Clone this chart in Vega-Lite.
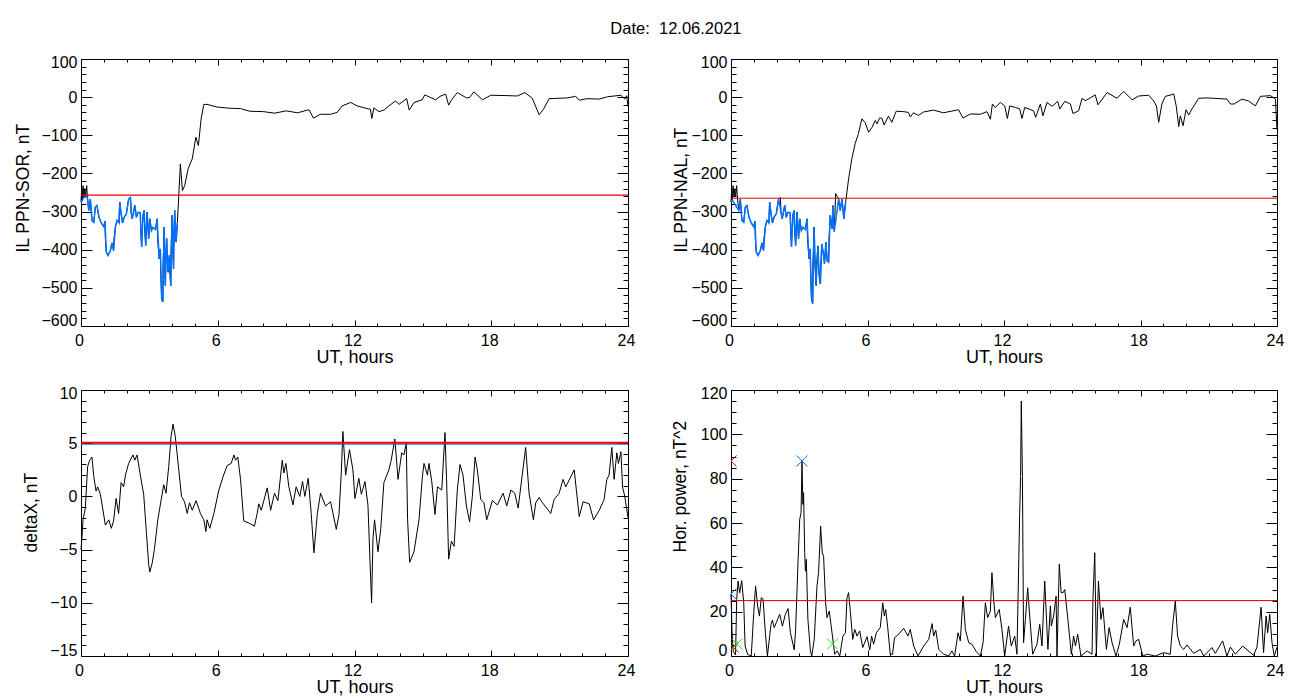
{"$schema":"https://vega.github.io/schema/vega-lite/v6.json","padding":{"left":13,"top":21,"right":0,"bottom":0},"background":"white","bounds":"flush","columns":2,"spacing":{"row":64,"column":103},
"title":{"text":"Date:\u00a0 12.06.2021","fontSize":16.5,"fontWeight":"normal","font":"Liberation Sans","anchor":"middle","color":"black","offset":16,"dx":27},
"config":{"view":{"stroke":"black","strokeWidth":1},"line":{"color":"black","strokeWidth":1,"clip":true},"axis":{"domain":false,"grid":false,"tickColor":"black","tickWidth":1,"labelFont":"Liberation Sans","labelFontSize":16,"labelColor":"black","titleFont":"Liberation Sans","titleFontSize":17.5,"titleFontWeight":"normal","titleColor":"black","labelOverlap":false,"labelBound":false}},
"datasets":{
"sor":[{"t":0,"v":-275},{"t":0.03,"v":-240},{"t":0.06,"v":-270},{"t":0.09,"v":-232},{"t":0.13,"v":-262},{"t":0.17,"v":-240},{"t":0.2,"v":-262},{"t":0.25,"v":-232},{"t":0.28,"v":-262},{"t":0.34,"v":-297},{"t":0.41,"v":-268},{"t":0.48,"v":-323},{"t":0.56,"v":-328},{"t":0.63,"v":-288},{"t":0.7,"v":-284},{"t":0.79,"v":-315},{"t":0.89,"v":-330},{"t":1.0,"v":-340},{"t":1.05,"v":-325},{"t":1.07,"v":-370,"k":1},{"t":1.11,"v":-406},{"t":1.19,"v":-415},{"t":1.29,"v":-402},{"t":1.36,"v":-382},{"t":1.43,"v":-402},{"t":1.45,"v":-370,"k":1},{"t":1.51,"v":-340},{"t":1.58,"v":-323},{"t":1.67,"v":-330},{"t":1.68,"v":-300,"k":1},{"t":1.7,"v":-275},{"t":1.76,"v":-305},{"t":1.82,"v":-330},{"t":1.9,"v":-314},{"t":1.99,"v":-306},{"t":2.09,"v":-267},{"t":2.17,"v":-263},{"t":2.2,"v":-302},{"t":2.25,"v":-319},{"t":2.36,"v":-284},{"t":2.43,"v":-315},{"t":2.5,"v":-302},{"t":2.6,"v":-303},{"t":2.62,"v":-350,"k":1},{"t":2.66,"v":-393},{"t":2.68,"v":-350,"k":1},{"t":2.72,"v":-310},{"t":2.77,"v":-297},{"t":2.79,"v":-345,"k":1},{"t":2.84,"v":-389},{"t":2.9,"v":-301},{"t":2.97,"v":-371},{"t":3.02,"v":-319},{"t":3.09,"v":-350},{"t":3.16,"v":-341},{"t":3.27,"v":-347},{"t":3.34,"v":-319},{"t":3.36,"v":-370,"k":1},{"t":3.43,"v":-424},{"t":3.48,"v":-398},{"t":3.5,"v":-465,"k":1},{"t":3.54,"v":-529},{"t":3.59,"v":-537},{"t":3.6,"v":-440,"k":1},{"t":3.65,"v":-341},{"t":3.66,"v":-420,"k":1},{"t":3.7,"v":-494},{"t":3.71,"v":-430,"k":1},{"t":3.76,"v":-371},{"t":3.77,"v":-415,"k":1},{"t":3.82,"v":-459},{"t":3.88,"v":-415},{"t":3.89,"v":-455,"k":1},{"t":3.94,"v":-494},{"t":3.95,"v":-400,"k":1},{"t":4.0,"v":-310},{"t":4.01,"v":-380,"k":1},{"t":4.06,"v":-450},{"t":4.07,"v":-375,"k":1},{"t":4.11,"v":-297},{"t":4.17,"v":-380},{"t":4.23,"v":-328},{"t":4.29,"v":-258},{"t":4.36,"v":-175},{"t":4.45,"v":-245},{"t":4.55,"v":-232},{"t":4.7,"v":-188},{"t":4.88,"v":-162},{"t":5.04,"v":-105},{"t":5.15,"v":-127},{"t":5.27,"v":-57},{"t":5.39,"v":-19},{"t":5.53,"v":-19},{"t":5.97,"v":-26},{"t":6.5,"v":-29},{"t":7.0,"v":-30},{"t":7.4,"v":-37},{"t":8,"v":-38},{"t":8.5,"v":-42},{"t":9,"v":-36},{"t":9.5,"v":-41},{"t":10,"v":-33},{"t":10.2,"v":-55},{"t":10.5,"v":-45},{"t":10.95,"v":-45},{"t":11.24,"v":-40},{"t":11.46,"v":-23},{"t":11.83,"v":-14},{"t":12.12,"v":-23},{"t":12.49,"v":-29},{"t":12.7,"v":-32},{"t":12.76,"v":-56},{"t":12.85,"v":-28},{"t":13.07,"v":-38},{"t":13.29,"v":-34},{"t":13.51,"v":-23},{"t":13.8,"v":-10},{"t":13.95,"v":-19},{"t":14.29,"v":-4},{"t":14.4,"v":-34},{"t":14.61,"v":-14},{"t":14.97,"v":-7},{"t":15.08,"v":6},{"t":15.56,"v":-7},{"t":15.75,"v":2},{"t":16,"v":8},{"t":16.13,"v":-21},{"t":16.25,"v":-8},{"t":16.51,"v":12},{"t":16.91,"v":-2},{"t":17.05,"v":-1},{"t":17.24,"v":14},{"t":17.61,"v":-7},{"t":17.98,"v":5},{"t":18.7,"v":4},{"t":19.14,"v":3},{"t":19.48,"v":12},{"t":19.8,"v":-3},{"t":20.1,"v":-46},{"t":20.29,"v":-32},{"t":20.54,"v":-4},{"t":21.34,"v":-2},{"t":21.7,"v":2},{"t":21.87,"v":-8},{"t":22.2,"v":-4},{"t":22.74,"v":-5},{"t":23.1,"v":1},{"t":23.69,"v":5},{"t":23.86,"v":-5},{"t":23.94,"v":4},{"t":24,"v":-25}],
"nal":[{"t":0,"v":-275},{"t":0.03,"v":-240},{"t":0.06,"v":-270},{"t":0.09,"v":-232},{"t":0.13,"v":-262},{"t":0.17,"v":-240},{"t":0.2,"v":-262},{"t":0.25,"v":-232},{"t":0.28,"v":-262},{"t":0.34,"v":-297},{"t":0.41,"v":-268},{"t":0.48,"v":-323},{"t":0.56,"v":-328},{"t":0.63,"v":-288},{"t":0.7,"v":-284},{"t":0.79,"v":-315},{"t":0.89,"v":-330},{"t":1.0,"v":-340},{"t":1.05,"v":-325},{"t":1.07,"v":-370,"k":1},{"t":1.11,"v":-406},{"t":1.19,"v":-415},{"t":1.29,"v":-402},{"t":1.36,"v":-382},{"t":1.43,"v":-402},{"t":1.45,"v":-370,"k":1},{"t":1.51,"v":-340},{"t":1.58,"v":-323},{"t":1.67,"v":-330},{"t":1.68,"v":-300,"k":1},{"t":1.7,"v":-275},{"t":1.76,"v":-305},{"t":1.82,"v":-330},{"t":1.9,"v":-314},{"t":1.99,"v":-306},{"t":2.09,"v":-267},{"t":2.17,"v":-263},{"t":2.2,"v":-302},{"t":2.25,"v":-319},{"t":2.36,"v":-284},{"t":2.43,"v":-315},{"t":2.5,"v":-302},{"t":2.6,"v":-303},{"t":2.62,"v":-350,"k":1},{"t":2.66,"v":-393},{"t":2.68,"v":-350,"k":1},{"t":2.72,"v":-310},{"t":2.77,"v":-297},{"t":2.79,"v":-345,"k":1},{"t":2.84,"v":-389},{"t":2.9,"v":-301},{"t":2.97,"v":-371},{"t":3.02,"v":-319},{"t":3.09,"v":-350},{"t":3.16,"v":-341},{"t":3.27,"v":-347},{"t":3.34,"v":-319},{"t":3.36,"v":-370,"k":1},{"t":3.43,"v":-424},{"t":3.48,"v":-398},{"t":3.5,"v":-465,"k":1},{"t":3.54,"v":-529},{"t":3.59,"v":-541},{"t":3.6,"v":-440,"k":1},{"t":3.65,"v":-341},{"t":3.67,"v":-420,"k":1},{"t":3.74,"v":-494},{"t":3.76,"v":-440,"k":1},{"t":3.82,"v":-390},{"t":3.86,"v":-450},{"t":3.88,"v":-475,"k":1},{"t":3.93,"v":-490},{"t":3.95,"v":-435,"k":1},{"t":3.99,"v":-385},{"t":4.06,"v":-410},{"t":4.11,"v":-437},{"t":4.17,"v":-380},{"t":4.23,"v":-430},{"t":4.29,"v":-433},{"t":4.31,"v":-370,"k":1},{"t":4.36,"v":-310},{"t":4.44,"v":-345},{"t":4.48,"v":-284},{"t":4.54,"v":-352},{"t":4.6,"v":-253},{"t":4.73,"v":-267},{"t":4.8,"v":-297},{"t":4.88,"v":-267},{"t":4.96,"v":-319},{"t":5.04,"v":-275},{"t":5.17,"v":-214},{"t":5.31,"v":-162},{"t":5.46,"v":-121},{"t":5.6,"v":-96},{"t":5.75,"v":-57},{"t":5.9,"v":-67},{"t":6.05,"v":-92},{"t":6.2,"v":-79},{"t":6.34,"v":-61},{"t":6.42,"v":-70},{"t":6.53,"v":-55},{"t":6.63,"v":-55},{"t":6.73,"v":-73},{"t":6.92,"v":-50},{"t":7.07,"v":-66},{"t":7.26,"v":-37},{"t":7.58,"v":-38},{"t":7.8,"v":-40},{"t":7.88,"v":-52},{"t":8.02,"v":-41},{"t":8.24,"v":-48},{"t":8.46,"v":-39},{"t":8.9,"v":-34},{"t":9.34,"v":-41},{"t":10,"v":-33},{"t":10.2,"v":-55},{"t":10.52,"v":-44},{"t":10.96,"v":-45},{"t":11.25,"v":-38},{"t":11.4,"v":-58},{"t":11.49,"v":-18},{"t":11.62,"v":-27},{"t":11.84,"v":-14},{"t":12.03,"v":-23},{"t":12.15,"v":-56},{"t":12.25,"v":-23},{"t":12.5,"v":-27},{"t":12.69,"v":-31},{"t":12.79,"v":-56},{"t":12.91,"v":-27},{"t":13.3,"v":-36},{"t":13.39,"v":-53},{"t":13.6,"v":-18},{"t":13.71,"v":-49},{"t":13.89,"v":-14},{"t":14.11,"v":-24},{"t":14.36,"v":-11},{"t":14.45,"v":-31},{"t":14.67,"v":-11},{"t":14.92,"v":-18},{"t":15.03,"v":-43},{"t":15.28,"v":-36},{"t":15.43,"v":-3},{"t":15.57,"v":-9},{"t":15.77,"v":-3},{"t":16.01,"v":6},{"t":16.13,"v":-20},{"t":16.26,"v":-10},{"t":16.53,"v":12},{"t":16.97,"v":-3},{"t":17.26,"v":15},{"t":17.63,"v":-7},{"t":17.92,"v":3},{"t":18.36,"v":5},{"t":18.58,"v":-10},{"t":18.7,"v":-23},{"t":18.8,"v":-66},{"t":18.94,"v":-18},{"t":19.09,"v":2},{"t":19.46,"v":8},{"t":19.57,"v":-23},{"t":19.68,"v":-77},{"t":19.75,"v":-49},{"t":19.87,"v":-75},{"t":20,"v":-33},{"t":20.12,"v":-47},{"t":20.26,"v":-31},{"t":20.56,"v":-3},{"t":20.92,"v":-2},{"t":21.8,"v":-5},{"t":21.95,"v":-18},{"t":22.12,"v":-18},{"t":22.46,"v":-5},{"t":22.75,"v":-10},{"t":23.05,"v":-23},{"t":23.27,"v":2},{"t":23.71,"v":4},{"t":23.93,"v":-5},{"t":24,"v":-85}],
"dx":[{"t":0,"v":-5},{"t":0.04,"v":-3.9},{"t":0.09,"v":-2.2},{"t":0.19,"v":-1.1},{"t":0.29,"v":2.8},{"t":0.38,"v":3.4},{"t":0.48,"v":3.7},{"t":0.56,"v":1.9},{"t":0.66,"v":0.5},{"t":0.73,"v":0.9},{"t":0.85,"v":0.2},{"t":0.95,"v":-1.1},{"t":1.07,"v":-2.7},{"t":1.22,"v":-2.2},{"t":1.33,"v":-3},{"t":1.43,"v":-2.3},{"t":1.54,"v":-0.2},{"t":1.65,"v":-1.6},{"t":1.76,"v":1.3},{"t":1.87,"v":0.9},{"t":1.95,"v":2},{"t":2.09,"v":3.1},{"t":2.28,"v":3.9},{"t":2.36,"v":3.4},{"t":2.46,"v":3.9},{"t":2.61,"v":1.9},{"t":2.75,"v":0.2},{"t":2.87,"v":-3.4},{"t":2.97,"v":-6.4},{"t":3.02,"v":-7.1},{"t":3.12,"v":-6.3},{"t":3.22,"v":-5},{"t":3.37,"v":-2.2},{"t":3.48,"v":-0.8},{"t":3.63,"v":1.1},{"t":3.73,"v":0.3},{"t":3.85,"v":2.8},{"t":3.95,"v":5.6},{"t":4.04,"v":6.8},{"t":4.14,"v":5.6},{"t":4.29,"v":2.5},{"t":4.41,"v":0},{"t":4.54,"v":-0.5},{"t":4.66,"v":-1.6},{"t":4.76,"v":-0.6},{"t":4.88,"v":-1.3},{"t":5.05,"v":-0.4},{"t":5.24,"v":-1.6},{"t":5.39,"v":-2.2},{"t":5.48,"v":-3.3},{"t":5.53,"v":-2.2},{"t":5.65,"v":-3},{"t":5.83,"v":-1.6},{"t":6.05,"v":0.6},{"t":6.24,"v":1.9},{"t":6.41,"v":2.9},{"t":6.59,"v":3.1},{"t":6.71,"v":3.9},{"t":6.78,"v":3.4},{"t":6.88,"v":3.7},{"t":7,"v":1.6},{"t":7.14,"v":-2.3},{"t":7.36,"v":-2.5},{"t":7.61,"v":-2.8},{"t":7.73,"v":-1.6},{"t":7.8,"v":-0.7},{"t":7.91,"v":-1.3},{"t":8.17,"v":0.8},{"t":8.32,"v":-1.3},{"t":8.49,"v":0.3},{"t":8.64,"v":-0.4},{"t":8.83,"v":3.4},{"t":8.9,"v":2.2},{"t":8.99,"v":3.1},{"t":9.12,"v":0.9},{"t":9.3,"v":-0.8},{"t":9.44,"v":0.9},{"t":9.6,"v":0},{"t":9.72,"v":1.4},{"t":9.82,"v":0},{"t":9.97,"v":1.7},{"t":10.1,"v":-1.6},{"t":10.22,"v":-5.3},{"t":10.37,"v":-1.6},{"t":10.51,"v":0.3},{"t":10.73,"v":-0.9},{"t":10.95,"v":-0.5},{"t":11.2,"v":-3.1},{"t":11.32,"v":-1.7},{"t":11.42,"v":2.2},{"t":11.49,"v":6.1},{"t":11.61,"v":2},{"t":11.78,"v":4.4},{"t":11.93,"v":2.5},{"t":12.02,"v":-0.2},{"t":12.19,"v":1.7},{"t":12.3,"v":0.2},{"t":12.46,"v":1.4},{"t":12.59,"v":-0.8},{"t":12.71,"v":-7.8},{"t":12.75,"v":-10},{"t":12.81,"v":-4},{"t":12.88,"v":-2.2},{"t":13.03,"v":-5.2},{"t":13.15,"v":-3.1},{"t":13.29,"v":1.3},{"t":13.51,"v":2.5},{"t":13.61,"v":3.4},{"t":13.77,"v":5.4},{"t":13.91,"v":1.6},{"t":14.07,"v":4.1},{"t":14.17,"v":3.9},{"t":14.27,"v":5},{"t":14.33,"v":-2.2},{"t":14.42,"v":-6.2},{"t":14.61,"v":-5.2},{"t":14.83,"v":-2.2},{"t":14.98,"v":1.9},{"t":15.05,"v":3.1},{"t":15.2,"v":2},{"t":15.27,"v":3.1},{"t":15.39,"v":1.4},{"t":15.53,"v":-1.7},{"t":15.64,"v":0.9},{"t":15.83,"v":0.6},{"t":15.97,"v":6},{"t":16.04,"v":1.6},{"t":16.13,"v":-5.9},{"t":16.25,"v":-4.2},{"t":16.37,"v":-4.7},{"t":16.51,"v":0.6},{"t":16.63,"v":3},{"t":16.76,"v":2},{"t":16.91,"v":-0.9},{"t":17.05,"v":-2.4},{"t":17.17,"v":0},{"t":17.29,"v":3.7},{"t":17.39,"v":2.5},{"t":17.54,"v":-0.3},{"t":17.68,"v":-0.6},{"t":17.8,"v":-2.2},{"t":18.05,"v":-0.4},{"t":18.27,"v":-0.8},{"t":18.52,"v":0.3},{"t":18.68,"v":-0.9},{"t":18.86,"v":0.6},{"t":19.03,"v":0.3},{"t":19.18,"v":-1.1},{"t":19.37,"v":2.2},{"t":19.51,"v":4.6},{"t":19.66,"v":0.3},{"t":19.85,"v":-2.2},{"t":19.95,"v":-0.6},{"t":20.1,"v":-0.1},{"t":20.25,"v":-0.6},{"t":20.61,"v":-1.6},{"t":20.76,"v":-0.3},{"t":20.98,"v":0.3},{"t":21.15,"v":1.6},{"t":21.27,"v":0.9},{"t":21.64,"v":2.5},{"t":21.86,"v":-1.9},{"t":22.03,"v":-0.5},{"t":22.3,"v":-0.7},{"t":22.49,"v":-2.2},{"t":22.74,"v":-1.3},{"t":22.95,"v":-0.3},{"t":23.07,"v":1.6},{"t":23.17,"v":2},{"t":23.29,"v":4.6},{"t":23.39,"v":1.6},{"t":23.51,"v":4.1},{"t":23.58,"v":3.1},{"t":23.69,"v":4.2},{"t":23.76,"v":0.9},{"t":23.86,"v":0},{"t":24,"v":-2}],
"pw":[{"t":0,"v":28},{"t":0.05,"v":10},{"t":0.1,"v":2},{"t":0.2,"v":0.5},{"t":0.25,"v":25.5},{"t":0.31,"v":33.8},{"t":0.38,"v":28.5},{"t":0.47,"v":34},{"t":0.56,"v":24},{"t":0.62,"v":4.5},{"t":0.73,"v":0.7},{"t":0.89,"v":0},{"t":1,"v":19.5},{"t":1.08,"v":31.6},{"t":1.17,"v":22.6},{"t":1.25,"v":18},{"t":1.33,"v":26.3},{"t":1.41,"v":25.6},{"t":1.51,"v":10.5},{"t":1.6,"v":0},{"t":1.7,"v":9},{"t":1.76,"v":14.3},{"t":1.82,"v":16.2},{"t":1.9,"v":12.8},{"t":2.02,"v":15.8},{"t":2.14,"v":18.8},{"t":2.26,"v":13.5},{"t":2.39,"v":18.8},{"t":2.51,"v":21.4},{"t":2.61,"v":10.5},{"t":2.78,"v":2.7},{"t":2.84,"v":12},{"t":2.95,"v":43.6},{"t":3.02,"v":61.7},{"t":3.08,"v":64.7},{"t":3.12,"v":88},{"t":3.16,"v":68.4},{"t":3.19,"v":73.7},{"t":3.24,"v":46.6},{"t":3.27,"v":38.3},{"t":3.31,"v":43.6},{"t":3.38,"v":16.5},{"t":3.49,"v":2.3},{"t":3.55,"v":0},{"t":3.66,"v":7.5},{"t":3.78,"v":31.6},{"t":3.85,"v":37.6},{"t":3.94,"v":58.6},{"t":4.01,"v":46.6},{"t":4.07,"v":45},{"t":4.16,"v":24},{"t":4.22,"v":17.3},{"t":4.32,"v":20.3},{"t":4.44,"v":10.5},{"t":4.56,"v":0.8},{"t":4.66,"v":2.3},{"t":4.78,"v":0},{"t":4.92,"v":9},{"t":5.03,"v":10.5},{"t":5.1,"v":26.3},{"t":5.17,"v":28.6},{"t":5.25,"v":19.5},{"t":5.35,"v":7.5},{"t":5.44,"v":12},{"t":5.54,"v":9},{"t":5.66,"v":11.3},{"t":5.79,"v":3.8},{"t":5.98,"v":8.7},{"t":6.1,"v":2.7},{"t":6.18,"v":9},{"t":6.27,"v":5.3},{"t":6.39,"v":10.5},{"t":6.56,"v":12.8},{"t":6.67,"v":24},{"t":6.74,"v":18},{"t":6.8,"v":21},{"t":6.89,"v":12.8},{"t":7,"v":0.8},{"t":7.1,"v":0.8},{"t":7.19,"v":8.3},{"t":7.37,"v":9.8},{"t":7.59,"v":12.5},{"t":7.78,"v":9},{"t":7.88,"v":12},{"t":8.03,"v":4.5},{"t":8.22,"v":0},{"t":8.47,"v":4.5},{"t":8.69,"v":7.5},{"t":8.84,"v":14.6},{"t":8.91,"v":9},{"t":9,"v":11.7},{"t":9.13,"v":3},{"t":9.35,"v":0.8},{"t":9.57,"v":0},{"t":9.71,"v":2.3},{"t":9.83,"v":0},{"t":9.98,"v":10.5},{"t":10.08,"v":6.8},{"t":10.2,"v":27},{"t":10.3,"v":12},{"t":10.45,"v":6},{"t":10.59,"v":5.3},{"t":10.78,"v":2},{"t":10.96,"v":0},{"t":11.08,"v":6},{"t":11.18,"v":24},{"t":11.28,"v":17.3},{"t":11.4,"v":20.3},{"t":11.47,"v":37.6},{"t":11.55,"v":24.8},{"t":11.62,"v":17.3},{"t":11.79,"v":21},{"t":11.91,"v":12},{"t":12.03,"v":0},{"t":12.2,"v":13.5},{"t":12.32,"v":4.5},{"t":12.47,"v":9},{"t":12.57,"v":0.8},{"t":12.69,"v":64.7},{"t":12.73,"v":81},{"t":12.76,"v":115},{"t":12.81,"v":81},{"t":12.86,"v":6},{"t":12.94,"v":16.5},{"t":13.04,"v":30.8},{"t":13.13,"v":18},{"t":13.26,"v":0.8},{"t":13.45,"v":5.3},{"t":13.57,"v":14.3},{"t":13.67,"v":4.5},{"t":13.79,"v":33.8},{"t":13.93,"v":3},{"t":14.04,"v":22.6},{"t":14.08,"v":13.5},{"t":14.18,"v":18},{"t":14.29,"v":27},{"t":14.33,"v":0},{"t":14.43,"v":41.4},{"t":14.51,"v":28.6},{"t":14.6,"v":28.6},{"t":14.67,"v":30},{"t":14.8,"v":17.3},{"t":14.96,"v":0.8},{"t":15.06,"v":9},{"t":15.14,"v":4.5},{"t":15.24,"v":9.8},{"t":15.38,"v":0},{"t":15.65,"v":2.3},{"t":15.87,"v":0.8},{"t":15.91,"v":25.6},{"t":15.99,"v":46.6},{"t":16.06,"v":0},{"t":16.15,"v":33.8},{"t":16.26,"v":16.5},{"t":16.35,"v":21.8},{"t":16.5,"v":3},{"t":16.62,"v":12.8},{"t":16.75,"v":6},{"t":16.92,"v":0},{"t":17.07,"v":5.3},{"t":17.26,"v":16.5},{"t":17.41,"v":12.8},{"t":17.55,"v":22},{"t":17.7,"v":4.5},{"t":17.8,"v":6.8},{"t":17.92,"v":7.5},{"t":18.1,"v":0},{"t":18.3,"v":0.8},{"t":18.65,"v":0},{"t":19.02,"v":1.5},{"t":19.31,"v":0.8},{"t":19.41,"v":13.5},{"t":19.53,"v":24.8},{"t":19.63,"v":9},{"t":19.75,"v":4.5},{"t":19.9,"v":3},{"t":20.04,"v":5},{"t":20.34,"v":1.2},{"t":20.63,"v":3},{"t":20.78,"v":0},{"t":21.14,"v":3.8},{"t":21.29,"v":1.2},{"t":21.61,"v":6.8},{"t":21.8,"v":0},{"t":21.95,"v":4},{"t":22.17,"v":0.8},{"t":22.49,"v":4.5},{"t":22.97,"v":0.3},{"t":23.12,"v":4},{"t":23.3,"v":22},{"t":23.41,"v":1.5},{"t":23.52,"v":18},{"t":23.59,"v":10.5},{"t":23.68,"v":18.8},{"t":23.78,"v":6},{"t":23.88,"v":0},{"t":24,"v":4}],
"marks":[{"t":3.12,"v":88,"c":"blue"},{"t":0,"v":28,"c":"blue"},{"t":0,"v":88,"c":"red"},{"t":0.1,"v":4,"c":"red"},{"t":0.27,"v":5.4,"c":"green"},{"t":4.46,"v":5.4,"c":"green"}]
},
"concat":[
{"width":547,"height":267,"resolve":{"axis":{"x":"independent","y":"independent"}},"layer":[
{"data":{"name":"sor"},"mark":"line","encoding":{"x":{"field":"t","type":"quantitative","scale":{"domain":[0,24],"nice":false,"zero":false},"axis":{"orient":"bottom","values":[0,6,12,18,24],"tickSize":-6,"labelPadding":12,"labelFlush":false,"title":"UT, hours","titleFontSize":18,"titlePadding":0,"encoding":{"labels":{"dx":{"value":-2}}}}},"y":{"field":"v","type":"quantitative","scale":{"domain":[-600,100],"nice":false,"zero":false},"axis":{"orient":"left","values":[-600,-500,-400,-300,-200,-100,0,100],"tickSize":-11,"labelPadding":15,"title":"IL PPN-SOR, nT","titleX":-58,"titleY":193,"titleAlign":"left","titleBaseline":"middle","encoding":{"labels":{"dy":{"value":{"expr":"datum.value==100?3:datum.value==-600?-6:0"}}}}}}}},
{"data":{"name":"sor"},"transform":[{"filter":"datum.v < -258 && !datum.k"}],"mark":{"type":"line","color":"#0070ff","strokeWidth":1.5},"encoding":{"x":{"field":"t","type":"quantitative","axis":{"orient":"bottom","values":[1,2,3,4,5,7,8,9,10,11,13,14,15,16,17,19,20,21,22,23],"tickSize":-3,"labels":false,"title":null}},"y":{"field":"v","type":"quantitative","axis":{"orient":"left","values":[-580,-560,-540,-520,-480,-460,-440,-420,-380,-360,-340,-320,-280,-260,-240,-220,-180,-160,-140,-120,-80,-60,-40,-20,20,40,60,80],"tickSize":-5,"labels":false,"title":null}}}},
{"data":{"values":[{"h":-257}]},"mark":{"type":"rule","color":"#f00000","strokeWidth":1.3},"encoding":{"y":{"field":"h","type":"quantitative","axis":null}}},
{"data":{"values":[]},"mark":"line","encoding":{"x":{"field":"t","type":"quantitative","axis":{"orient":"top","values":[0,6,12,18,24],"tickSize":-6,"labels":false,"title":null}},"y":{"field":"v","type":"quantitative","axis":{"orient":"right","values":[-600,-500,-400,-300,-200,-100,0,100],"tickSize":-11,"labels":false,"title":null}}}},
{"data":{"values":[]},"mark":"line","encoding":{"x":{"field":"t","type":"quantitative","axis":{"orient":"top","values":[1,2,3,4,5,7,8,9,10,11,13,14,15,16,17,19,20,21,22,23],"tickSize":-3,"labels":false,"title":null}},"y":{"field":"v","type":"quantitative","axis":{"orient":"right","values":[-580,-560,-540,-520,-480,-460,-440,-420,-380,-360,-340,-320,-280,-260,-240,-220,-180,-160,-140,-120,-80,-60,-40,-20,20,40,60,80],"tickSize":-5,"labels":false,"title":null}}}}
]},
{"width":546,"height":267,"resolve":{"axis":{"x":"independent","y":"independent"}},"layer":[
{"data":{"name":"nal"},"mark":"line","encoding":{"x":{"field":"t","type":"quantitative","scale":{"domain":[0,24],"nice":false,"zero":false},"axis":{"orient":"bottom","values":[0,6,12,18,24],"tickSize":-6,"labelPadding":12,"labelFlush":false,"title":"UT, hours","titleFontSize":18,"titlePadding":0,"encoding":{"labels":{"dx":{"value":-2}}}}},"y":{"field":"v","type":"quantitative","scale":{"domain":[-600,100],"nice":false,"zero":false},"axis":{"orient":"left","values":[-600,-500,-400,-300,-200,-100,0,100],"tickSize":-11,"labelPadding":15,"title":"IL PPN-NAL, nT","titleX":-50,"titleY":193,"titleAlign":"left","titleBaseline":"middle","encoding":{"labels":{"dy":{"value":{"expr":"datum.value==100?3:datum.value==-600?-6:0"}}}}}}}},
{"data":{"name":"nal"},"transform":[{"filter":"datum.v < -265 && !datum.k"}],"mark":{"type":"line","color":"#0070ff","strokeWidth":1.5},"encoding":{"x":{"field":"t","type":"quantitative","axis":{"orient":"bottom","values":[1,2,3,4,5,7,8,9,10,11,13,14,15,16,17,19,20,21,22,23],"tickSize":-3,"labels":false,"title":null}},"y":{"field":"v","type":"quantitative","axis":{"orient":"left","values":[-580,-560,-540,-520,-480,-460,-440,-420,-380,-360,-340,-320,-280,-260,-240,-220,-180,-160,-140,-120,-80,-60,-40,-20,20,40,60,80],"tickSize":-5,"labels":false,"title":null}}}},
{"data":{"values":[{"h":-265}]},"mark":{"type":"rule","color":"#e00000","strokeWidth":1},"encoding":{"y":{"field":"h","type":"quantitative","axis":null}}},
{"data":{"values":[]},"mark":"line","encoding":{"x":{"field":"t","type":"quantitative","axis":{"orient":"top","values":[0,6,12,18,24],"tickSize":-6,"labels":false,"title":null}},"y":{"field":"v","type":"quantitative","axis":{"orient":"right","values":[-600,-500,-400,-300,-200,-100,0,100],"tickSize":-11,"labels":false,"title":null}}}},
{"data":{"values":[]},"mark":"line","encoding":{"x":{"field":"t","type":"quantitative","axis":{"orient":"top","values":[1,2,3,4,5,7,8,9,10,11,13,14,15,16,17,19,20,21,22,23],"tickSize":-3,"labels":false,"title":null}},"y":{"field":"v","type":"quantitative","axis":{"orient":"right","values":[-580,-560,-540,-520,-480,-460,-440,-420,-380,-360,-340,-320,-280,-260,-240,-220,-180,-160,-140,-120,-80,-60,-40,-20,20,40,60,80],"tickSize":-5,"labels":false,"title":null}}}}
]},
{"width":547,"height":266,"resolve":{"axis":{"x":"independent","y":"independent"}},"layer":[
{"data":{"name":"dx"},"mark":"line","encoding":{"x":{"field":"t","type":"quantitative","scale":{"domain":[0,24],"nice":false,"zero":false},"axis":{"orient":"bottom","values":[0,6,12,18,24],"tickSize":-6,"labelPadding":12,"labelFlush":false,"title":"UT, hours","titleFontSize":18,"titlePadding":0,"encoding":{"labels":{"dx":{"value":-2}}}}},"y":{"field":"v","type":"quantitative","scale":{"domain":[-15,10],"nice":false,"zero":false},"axis":{"orient":"left","values":[-15,-10,-5,0,5,10],"tickSize":-11,"labelPadding":15,"title":"deltaX, nT","titleX":-50,"titleY":162,"titleAlign":"left","titleBaseline":"middle","encoding":{"labels":{"dy":{"value":{"expr":"datum.value==10?3:datum.value==-15?-6:0"}}}}}}}},
{"data":{"values":[{"h":5}]},"mark":{"type":"rule","color":"#0070ff","strokeWidth":1,"yOffset":1},"encoding":{"y":{"field":"h","type":"quantitative","axis":null}}},
{"data":{"values":[{"h":5.05}]},"mark":{"type":"rule","color":"#f00000","strokeWidth":2},"encoding":{"y":{"field":"h","type":"quantitative","axis":null}}},
{"data":{"values":[]},"mark":"line","encoding":{"x":{"field":"t","type":"quantitative","axis":{"orient":"bottom","values":[1,2,3,4,5,7,8,9,10,11,13,14,15,16,17,19,20,21,22,23],"tickSize":-3,"labels":false,"title":null}},"y":{"field":"v","type":"quantitative","axis":{"orient":"left","values":[-14,-13,-12,-11,-9,-8,-7,-6,-4,-3,-2,-1,1,2,3,4,6,7,8,9],"tickSize":-5,"labels":false,"title":null}}}},
{"data":{"values":[]},"mark":"line","encoding":{"x":{"field":"t","type":"quantitative","axis":{"orient":"top","values":[0,6,12,18,24],"tickSize":-6,"labels":false,"title":null}},"y":{"field":"v","type":"quantitative","axis":{"orient":"right","values":[-15,-10,-5,0,5,10],"tickSize":-11,"labels":false,"title":null}}}},
{"data":{"values":[]},"mark":"line","encoding":{"x":{"field":"t","type":"quantitative","axis":{"orient":"top","values":[1,2,3,4,5,7,8,9,10,11,13,14,15,16,17,19,20,21,22,23],"tickSize":-3,"labels":false,"title":null}},"y":{"field":"v","type":"quantitative","axis":{"orient":"right","values":[-14,-13,-12,-11,-9,-8,-7,-6,-4,-3,-2,-1,1,2,3,4,6,7,8,9],"tickSize":-5,"labels":false,"title":null}}}}
]},
{"width":546,"height":266,"resolve":{"axis":{"x":"independent","y":"independent"}},"layer":[
{"data":{"name":"pw"},"mark":"line","encoding":{"x":{"field":"t","type":"quantitative","scale":{"domain":[0,24],"nice":false,"zero":false},"axis":{"orient":"bottom","values":[0,6,12,18,24],"tickSize":-6,"labelPadding":12,"labelFlush":false,"title":"UT, hours","titleFontSize":18,"titlePadding":0,"encoding":{"labels":{"dx":{"value":-2}}}}},"y":{"field":"v","type":"quantitative","scale":{"domain":[0,120],"nice":false,"zero":false},"axis":{"orient":"left","values":[0,20,40,60,80,100,120],"tickSize":-11,"labelPadding":15,"title":"Hor. power, nT^2","titleX":-51,"titleY":162,"titleAlign":"left","titleBaseline":"middle","encoding":{"labels":{"dy":{"value":{"expr":"datum.value==120?3:datum.value==0?-6:0"}}}}}}}},
{"data":{"values":[{"h":25}]},"mark":{"type":"rule","color":"#e00000","strokeWidth":1},"encoding":{"y":{"field":"h","type":"quantitative","axis":null}}},
{"data":{"name":"marks"},"mark":{"type":"point","shape":"M-1,-1L1,1M-1,1L1,-1","size":120,"filled":false,"strokeWidth":1,"opacity":1,"clip":true},"encoding":{"x":{"field":"t","type":"quantitative","axis":{"orient":"bottom","values":[1,2,3,4,5,7,8,9,10,11,13,14,15,16,17,19,20,21,22,23],"tickSize":-3,"labels":false,"title":null}},"y":{"field":"v","type":"quantitative","axis":{"orient":"left","values":[5,10,15,25,30,35,45,50,55,65,70,75,85,90,95,105,110,115],"tickSize":-5,"labels":false,"title":null}},"color":{"field":"c","type":"nominal","scale":{"domain":["blue","red","green"],"range":["#0070ff","#e00000","#20e820"]},"legend":null}}},
{"data":{"values":[]},"mark":"line","encoding":{"x":{"field":"t","type":"quantitative","axis":{"orient":"top","values":[0,6,12,18,24],"tickSize":-6,"labels":false,"title":null}},"y":{"field":"v","type":"quantitative","axis":{"orient":"right","values":[0,20,40,60,80,100,120],"tickSize":-11,"labels":false,"title":null}}}},
{"data":{"values":[]},"mark":"line","encoding":{"x":{"field":"t","type":"quantitative","axis":{"orient":"top","values":[1,2,3,4,5,7,8,9,10,11,13,14,15,16,17,19,20,21,22,23],"tickSize":-3,"labels":false,"title":null}},"y":{"field":"v","type":"quantitative","axis":{"orient":"right","values":[5,10,15,25,30,35,45,50,55,65,70,75,85,90,95,105,110,115],"tickSize":-5,"labels":false,"title":null}}}}
]}
]}
